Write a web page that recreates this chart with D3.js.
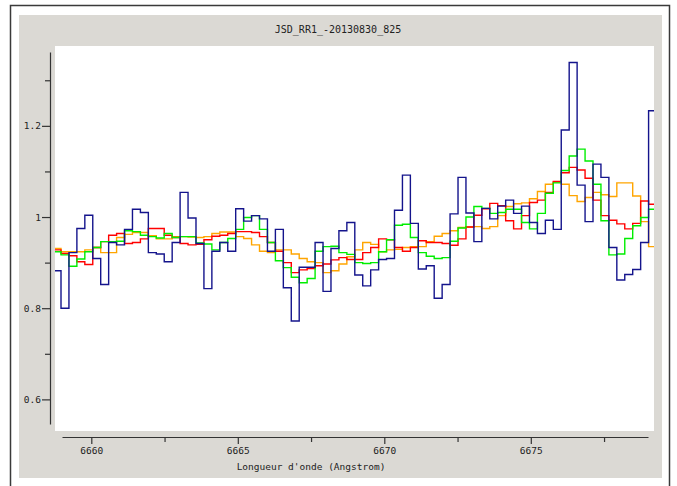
<!DOCTYPE html>
<html>
<head>
<meta charset="utf-8">
<script src="https://cdn.jsdelivr.net/npm/d3@7"></script>
<style>
  body { margin: 0; background: #fff; }
  svg { display: block; }
  text { font-family: "DejaVu Sans Mono", monospace; fill: #222; }
</style>
</head>
<body>
<div id="chart"></div>
<script>
// spectrum grid (Angstrom): first bin start and bin width
var wave0 = 6658.695;
var dWave = 0.271;

// flux per bin, one array per spectrum
var blueFlux = [0.882, 0.800, 0.922, 0.975, 1.004, 0.909, 0.852, 0.944, 0.939, 0.973,
  1.017, 1.010, 0.922, 0.919, 0.902, 0.944, 1.054, 0.998, 0.942, 0.843,
  0.925, 0.944, 0.925, 1.018, 0.991, 1.003, 0.996, 0.925, 0.973, 0.845,
  0.772, 0.890, 0.890, 0.944, 0.837, 0.931, 0.970, 0.988, 0.873, 0.849,
  0.884, 0.907, 0.909, 1.015, 1.092, 0.986, 0.886, 0.893, 0.822, 0.852,
  1.007, 1.087, 1.009, 0.946, 1.019, 0.996, 1.024, 1.037, 1.008, 1.024,
  0.988, 0.964, 0.993, 0.973, 1.191, 1.339, 1.070, 0.990, 1.116, 1.087,
  0.933, 0.862, 0.874, 0.885, 0.944, 1.233];

var orangeFlux = [0.931, 0.924, 0.924, 0.924, 0.928, 0.933, 0.922, 0.922, 0.955, 0.962,
  0.966, 0.966, 0.959, 0.952, 0.952, 0.957, 0.957, 0.956, 0.955, 0.957,
  0.964, 0.967, 0.967, 0.957, 0.953, 0.939, 0.925, 0.922, 0.928, 0.928,
  0.919, 0.909, 0.902, 0.900, 0.878, 0.882, 0.897, 0.913, 0.928, 0.944,
  0.940, 0.924, 0.928, 0.929, 0.933, 0.935, 0.935, 0.946, 0.958, 0.964,
  0.970, 0.977, 0.978, 0.979, 0.975, 0.979, 1.003, 1.023, 1.029, 1.031,
  1.040, 1.056, 1.072, 1.077, 1.072, 1.047, 1.034, 1.043, 1.054, 1.049,
  1.045, 1.075, 1.075, 1.046, 0.990, 0.935];

var redFlux = [0.928, 0.920, 0.915, 0.902, 0.896, 0.933, 0.946, 0.960, 0.964, 0.942,
  0.944, 0.952, 0.975, 0.975, 0.960, 0.955, 0.942, 0.939, 0.940, 0.950,
  0.958, 0.960, 0.964, 0.968, 0.968, 0.966, 0.957, 0.944, 0.925, 0.900,
  0.878, 0.884, 0.887, 0.893, 0.897, 0.906, 0.911, 0.907, 0.907, 0.922,
  0.933, 0.952, 0.950, 0.933, 0.925, 0.933, 0.948, 0.944, 0.944, 0.942,
  0.938, 0.952, 0.978, 1.004, 1.018, 1.030, 1.025, 0.992, 0.974, 1.003,
  1.032, 1.037, 1.054, 1.078, 1.097, 1.109, 1.103, 1.085, 1.037, 1.003,
  0.993, 0.985, 0.974, 0.986, 1.035, 1.028];

var greenFlux = [0.924, 0.917, 0.892, 0.908, 0.924, 0.933, 0.946, 0.946, 0.947, 0.970,
  0.968, 0.960, 0.957, 0.954, 0.964, 0.955, 0.957, 0.957, 0.943, 0.941,
  0.928, 0.944, 0.953, 0.973, 0.999, 1.003, 0.973, 0.944, 0.904, 0.889,
  0.868, 0.856, 0.865, 0.925, 0.935, 0.936, 0.922, 0.918, 0.900, 0.898,
  0.900, 0.924, 0.950, 0.982, 0.984, 0.955, 0.922, 0.914, 0.909, 0.911,
  0.947, 0.976, 1.000, 1.023, 1.019, 1.008, 1.010, 1.017, 1.017, 0.988,
  0.974, 1.008, 1.052, 1.075, 1.102, 1.134, 1.149, 1.123, 1.072, 0.992,
  0.917, 0.919, 0.953, 0.981, 0.999, 1.017];

// axes
var xMajorTicks = [6660, 6665, 6670, 6675];
var xMinorTicks = [6662.5, 6667.5, 6672.5, 6677.5];
var yMajorTicks = [0.6, 0.8, 1, 1.2];
var yMinorTicks = [0.7, 0.9, 1.1, 1.3];
var yTickLabels = ["0.6", "0.8", "1", "1.2"];

var title = "JSD_RR1_-20130830_825";
var xLabel = "Longueur d'onde (Angstrom)";

var w = 677, h = 486;

var svg = d3.select("#chart").append("svg")
    .attr("width", w)
    .attr("height", h);

// outer frame + grey panel
svg.append("rect")
    .attr("x", 10.5).attr("y", 5.5)
    .attr("width", 659).attr("height", 500)
    .attr("fill", "#fff")
    .attr("stroke", "#3a3a3a")
    .attr("stroke-width", 1.5);

svg.append("rect")
    .attr("x", 19).attr("y", 15)
    .attr("width", 643).attr("height", 463)
    .attr("fill", "#dbd9d4");

// data area
var plot = {x: 55, y: 46, w: 599, h: 385};
svg.append("rect")
    .attr("x", plot.x).attr("y", plot.y)
    .attr("width", plot.w).attr("height", plot.h)
    .attr("fill", "#fff");

var x = d3.scaleLinear().domain([6659, 6679]).range([62, 648]);
var y = d3.scaleLinear().domain([0.546, 1.362]).range([424, 52]);

svg.append("clipPath").attr("id", "clip")
  .append("rect")
    .attr("x", plot.x).attr("y", plot.y)
    .attr("width", plot.w).attr("height", plot.h);

// x axis
var xAxisY = 437;
svg.append("g")
    .attr("transform", "translate(0," + xAxisY + ")")
    .call(d3.axisBottom(x).tickValues(xMinorTicks).tickSize(5).tickSizeOuter(0).tickFormat(""))
    .call(function (g) { g.select(".domain").remove(); });

svg.append("g")
    .attr("class", "xaxis")
    .attr("transform", "translate(0," + xAxisY + ")")
    .call(d3.axisBottom(x).tickValues(xMajorTicks).tickSize(7).tickSizeOuter(0)
        .tickPadding(3).tickFormat(d3.format("d")));

// y axis
var yAxisX = 50;
svg.append("g")
    .attr("transform", "translate(" + yAxisX + ",0)")
    .call(d3.axisLeft(y).tickValues(yMinorTicks).tickSize(5).tickSizeOuter(0).tickFormat(""))
    .call(function (g) { g.select(".domain").remove(); });

svg.append("g")
    .attr("class", "yaxis")
    .attr("transform", "translate(" + yAxisX + ",0)")
    .call(d3.axisLeft(y).tickValues(yMajorTicks).tickSize(8).tickSizeOuter(0)
        .tickPadding(1).tickFormat(function (d, i) { return yTickLabels[i]; }));

svg.selectAll(".tick line, .domain").attr("stroke", "#333").attr("stroke-width", 1.2);
svg.selectAll(".tick text")
    .style("font-family", "'DejaVu Sans Mono', monospace")
    .style("font-size", "9.5px")
    .attr("fill", "#222");

// titles
svg.append("text")
    .attr("x", 338).attr("y", 32.5)
    .attr("text-anchor", "middle")
    .style("font-size", "10px")
    .text(title);

svg.append("text")
    .attr("x", 311).attr("y", 470)
    .attr("text-anchor", "middle")
    .style("font-size", "9.5px")
    .text(xLabel);

// step lines
function stepPoints(flux) {
    var pts = flux.map(function (v, i) { return [wave0 + i * dWave, v]; });
    pts.push([wave0 + flux.length * dWave, flux[flux.length - 1]]);
    return pts;
}

var line = d3.line()
    .x(function (d) { return x(d[0]); })
    .y(function (d) { return y(d[1]); })
    .curve(d3.curveStepAfter);

var series = [
    {flux: orangeFlux, color: "#ffa500"},
    {flux: redFlux, color: "#ff0000"},
    {flux: greenFlux, color: "#00ee00"},
    {flux: blueFlux, color: "#14148c"}
];

svg.append("g")
    .attr("clip-path", "url(#clip)")
  .selectAll("path")
    .data(series)
    .enter()
  .append("path")
    .attr("d", function (d) { return line(stepPoints(d.flux)); })
    .attr("fill", "none")
    .attr("stroke", function (d) { return d.color; })
    .attr("stroke-width", 1.4);
</script>
</body>
</html>
